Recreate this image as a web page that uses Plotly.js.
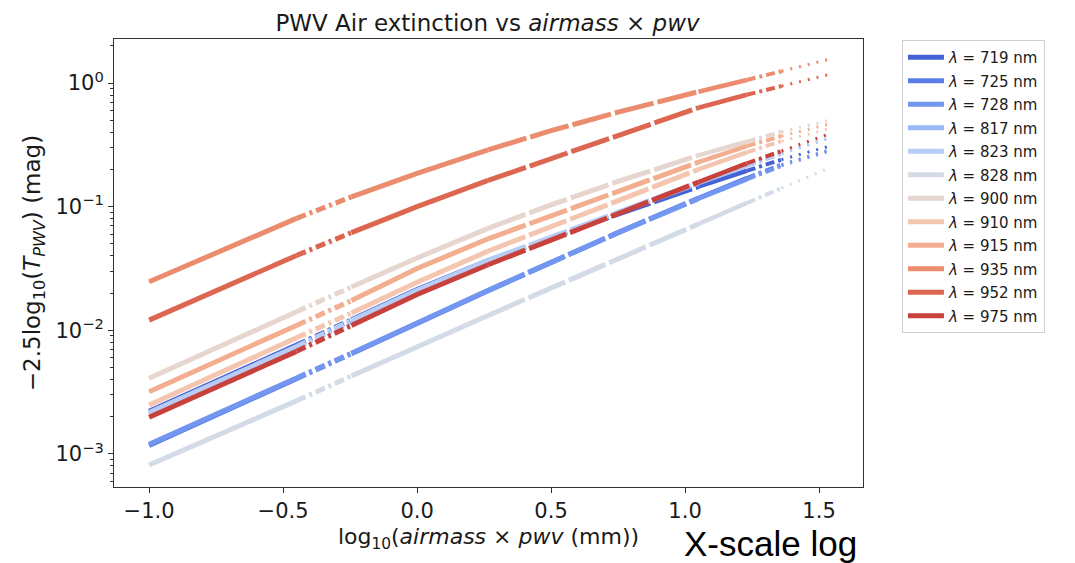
<!DOCTYPE html>
<html>
<head>
<meta charset="utf-8">
<script src="https://cdn.plot.ly/plotly-3.0.1.min.js"></script>
<style>html,body{margin:0;padding:0;background:#fff;}#chart{width:1075px;height:563px;}</style>
</head>
<body>
<div id="chart"></div>
<script>
// x positions: log10(airmass x pwv)
const logAirmassPwv = [-1.0, -0.45, -0.245, 0.0, 0.265, 0.5, 0.75, 1.05, 1.23, 1.36, 1.54];

// -2.5 log10(T_PWV) (mag)
const ext719 = [0.00221, 0.00759, 0.01216, 0.0214, 0.0367, 0.0562, 0.0871, 0.145, 0.195, 0.240, 0.309];
const ext725 = [0.00117, 0.00407, 0.00646, 0.01148, 0.0209, 0.0355, 0.0617, 0.1175, 0.170, 0.219, 0.288];
const ext728 = [0.00120, 0.00412, 0.00653, 0.01161, 0.0211, 0.0355, 0.0617, 0.1161, 0.166, 0.214, 0.282];
const ext817 = [0.00211, 0.00724, 0.01175, 0.0207, 0.0363, 0.0562, 0.0891, 0.155, 0.214, 0.269, 0.359];
const ext823 = [0.00216, 0.00741, 0.0120, 0.0211, 0.0367, 0.0569, 0.0902, 0.157, 0.216, 0.272, 0.363];
const ext828 = [0.000815, 0.00269, 0.00427, 0.00741, 0.0132, 0.0219, 0.0380, 0.0724, 0.107, 0.141, 0.206];
const ext900 = [0.00409, 0.01413, 0.0224, 0.0385, 0.0668, 0.1035, 0.160, 0.260, 0.335, 0.403, 0.501];
const ext910 = [0.00249, 0.00871, 0.0138, 0.0245, 0.0437, 0.0684, 0.111, 0.200, 0.275, 0.339, 0.427];
const ext915 = [0.00319, 0.01096, 0.0174, 0.0316, 0.0550, 0.0841, 0.130, 0.229, 0.309, 0.372, 0.468];
const ext935 = [0.0247, 0.0804, 0.120, 0.186, 0.288, 0.412, 0.582, 0.851, 1.059, 1.245, 1.563];
const ext952 = [0.0121, 0.0403, 0.0617, 0.100, 0.163, 0.245, 0.380, 0.631, 0.804, 0.944, 1.175];
const ext975 = [0.00198, 0.00676, 0.01096, 0.0195, 0.0339, 0.0537, 0.0871, 0.158, 0.224, 0.282, 0.389];

const wavelengths = [719, 725, 728, 817, 823, 828, 900, 910, 915, 935, 952, 975];
const seriesValues = [ext719, ext725, ext728, ext817, ext823, ext828, ext900, ext910, ext915, ext935, ext952, ext975];
const lineColors = ['#4562d4', '#5a7ee6', '#7396f0', '#99b8f8', '#b8cdf5', '#d3dbe6',
                    '#e6d6cf', '#f4c6b0', '#f3ad8f', '#ec8c6e', '#dd6650', '#c9413c'];

const yTickVals = [0.001, 0.01, 0.1, 1];
const yTickText = ['10<sup>−3</sup>', '10<sup>−2</sup>', '10<sup>−1</sup>', '10<sup>0</sup>'];
const xTickVals = [-1.0, -0.5, 0.0, 0.5, 1.0, 1.5];
const xTickText = ['−1.0', '−0.5', '0.0', '0.5', '1.0', '1.5'];

// segment styling (index ranges into the arrays)
const segs = [
  [0, 1, 'solid', 5], [1, 2, '10px,4px,3px,4px', 5], [2, 4, 'solid', 5],
  [4, 7, '40px,4px', 5], [7, 8, 'solid', 4.5], [8, 9, '9px,4px,3px,4px', 4], [9, 10, '2px,7px', 3]
];

const minorVals = [];
for (let e = -4; e <= 0; e++) for (let k = 2; k <= 9; k++) minorVals.push(k * Math.pow(10, e));

const traces = [];
seriesValues.forEach((vals, i) => {
  const label = '<i>λ</i> = ' + wavelengths[i] + ' nm';
  segs.forEach((s, j) => {
    traces.push({
      x: logAirmassPwv.slice(s[0], s[1] + 1),
      y: vals.slice(s[0], s[1] + 1),
      type: 'scatter', mode: 'lines',
      name: label, legendgroup: label, showlegend: j === 0,
      line: {color: lineColors[i], width: s[3], dash: s[2]},
      hoverinfo: 'skip'
    });
  });
});

const font = 'DejaVu Sans, sans-serif';
const ink = '#1a1a1a';
const layout = {
  width: 1075, height: 563,
  margin: {l: 114, r: 212, t: 39, b: 76},
  paper_bgcolor: '#fff', plot_bgcolor: '#fff',
  font: {family: font, color: ink},
  title: {text: 'PWV Air extinction vs <i>airmass</i> × <i>pwv</i>', font: {size: 23, family: font, color: ink},
          x: 0.4535, xanchor: 'center', y: 0.96, yanchor: 'middle'},
  xaxis: {
    range: [-1.131, 1.664], tickmode: 'array', tickvals: xTickVals, ticktext: xTickText,
    showgrid: false, zeroline: false, showline: true, linecolor: '#333', linewidth: 1, mirror: true,
    ticks: 'outside', ticklen: 5, tickcolor: '#333', tickfont: {size: 21, family: font, color: ink},
    title: {text: 'log<sub>10</sub>(<i>airmass</i> × <i>pwv</i> (mm))', font: {size: 22, family: font, color: ink}, standoff: 6}
  },
  yaxis: {
    type: 'log', range: [-3.267, 0.356], tickmode: 'array', tickvals: yTickVals, ticktext: yTickText,
    showgrid: false, zeroline: false, showline: true, linecolor: '#333', linewidth: 1, mirror: true,
    ticks: 'outside', ticklen: 5, tickcolor: '#333', tickfont: {size: 21, family: font, color: ink},
    minor: {tickvals: minorVals, ticks: 'outside', ticklen: 3, tickcolor: '#333'},
    title: {text: '−2.5log<sub>10</sub>(<i>T<sub>PWV</sub></i>) (mag)', font: {size: 23, family: font, color: ink}, standoff: 8}
  },
  legend: {
    x: 1.052, y: 0.998, xanchor: 'left', yanchor: 'top', itemwidth: 36,
    bgcolor: '#fff', bordercolor: '#d0d0d0', borderwidth: 1,
    font: {size: 15, family: font, color: ink}, traceorder: 'grouped', tracegroupgap: 1
  },
  annotations: [{
    text: 'X-scale log', xref: 'paper', yref: 'paper', x: 0.876, y: -0.125, xanchor: 'center', yanchor: 'middle',
    showarrow: false, font: {size: 35, family: 'Liberation Sans, Arial, sans-serif', color: '#000'}
  }]
};

Plotly.newPlot('chart', traces, layout, {displayModeBar: false, staticPlot: true});
</script>
</body>
</html>
